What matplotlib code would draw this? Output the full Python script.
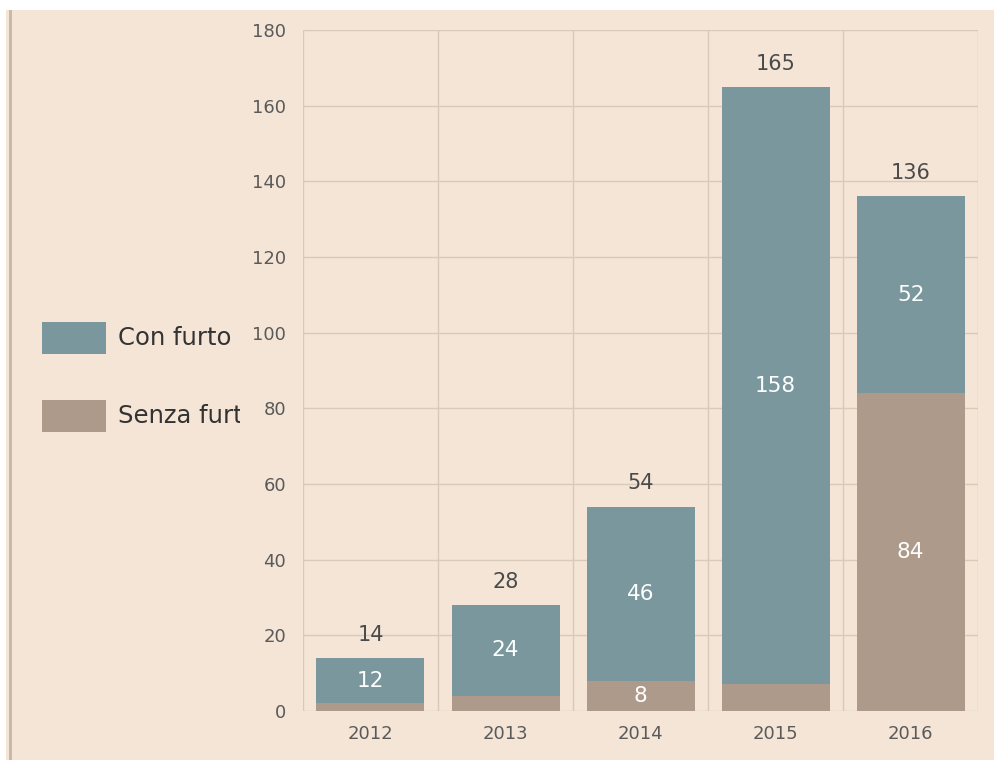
import numpy as np
import matplotlib

matplotlib.use("Agg")

import matplotlib.pyplot as plt
from matplotlib.patches import Rectangle
from matplotlib.transforms import Bbox

plt.rcParams["font.family"] = ["DejaVu Sans"]

years = ["2012", "2013", "2014", "2015", "2016"]
senza_furto = [2, 4, 8, 7, 84]
con_furto = [12, 24, 46, 158, 52]
series_names = ["Con furto", "Senza furto"]
inside_label_min = 8

BG = "#F5E5D6"
TEAL = "#7A979E"
BROWN = "#AD9A8A"
GRID = "#D9C9B9"
TEXT = "#4A4A4A"

totals = [a + b for a, b in zip(senza_furto, con_furto)]
x = np.arange(len(years))

fig = plt.figure(figsize=(9.95, 7.6), dpi=100, facecolor=BG)
ax = fig.add_axes([0.3045, 0.0645, 0.6785, 0.896])
ax.set_facecolor(BG)

ax.bar(x, senza_furto, width=0.8, color=BROWN, zorder=2)
ax.bar(x, con_furto, width=0.8, bottom=senza_furto, color=TEAL, zorder=2)

for i in range(len(years)):
    if con_furto[i] >= inside_label_min:
        ax.text(x[i], senza_furto[i] + con_furto[i] / 2, str(con_furto[i]),
                ha="center", va="center", color="white", fontsize=15.5, zorder=3)
    if senza_furto[i] >= inside_label_min:
        ax.text(x[i], senza_furto[i] / 2, str(senza_furto[i]),
                ha="center", va="center", color="white", fontsize=15.5, zorder=3)
    ax.text(x[i], totals[i] + 3.5, str(totals[i]),
            ha="center", va="bottom", color=TEXT, fontsize=15, zorder=3)

ax.set_xlim(-0.5, len(years) - 0.5)
ax.set_ylim(0, 180)
ax.set_yticks(np.arange(0, 181, 20))
ax.set_xticks(x)
ax.set_xticklabels(years)
ax.set_xticks(np.arange(-0.5, len(years), 1), minor=True)
ax.grid(axis="y", which="major", color=GRID, linewidth=1, zorder=0)
ax.grid(axis="x", which="minor", color=GRID, linewidth=1, zorder=0)
ax.tick_params(axis="both", which="both", length=0, colors="#5A5A5A", labelsize=13)
ax.tick_params(axis="y", pad=12)
ax.tick_params(axis="x", pad=10)
for s in ax.spines.values():
    s.set_visible(False)

# legend on the left, labels cut off where the y tick labels begin
clip = Bbox.from_extents(0, 0, 240, 760)
legend_rows = [(series_names[0], TEAL, 338), (series_names[1], BROWN, 416)]
for name, color, yc in legend_rows:
    fig.patches.append(Rectangle((42 / 995, (760 - yc - 16) / 760), 64 / 995, 32 / 760,
                                 transform=fig.transFigure, facecolor=color,
                                 edgecolor="none"))
    t = fig.text(118 / 995, (760 - yc) / 760, name, ha="left", va="center",
                 fontsize=17.5, color="#333333")
    t.set_clip_box(clip)
    t.set_clip_on(True)

# page border: white margins and a thin rule on the left
fig.patches.append(Rectangle((0, 1 - 10 / 760), 1, 10 / 760, transform=fig.transFigure,
                             facecolor="white", edgecolor="none", zorder=5))
fig.patches.append(Rectangle((0, 0), 6 / 995, 1, transform=fig.transFigure,
                             facecolor="white", edgecolor="none", zorder=5))
fig.patches.append(Rectangle((9 / 995, 0), 3 / 995, 1 - 10 / 760, transform=fig.transFigure,
                             facecolor="#C9B9A8", edgecolor="none", zorder=5))

fig.savefig("out.png", dpi=100, facecolor=BG)
